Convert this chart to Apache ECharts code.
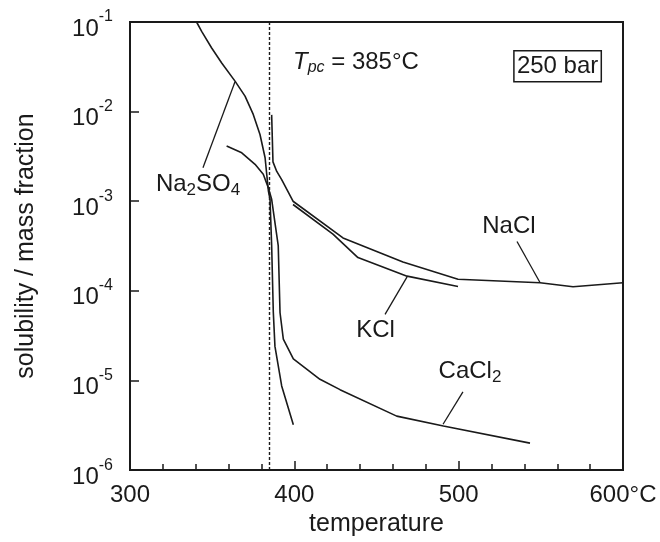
<!DOCTYPE html>
<html>
<head>
<meta charset="utf-8">
<script src="https://cdn.jsdelivr.net/npm/echarts@6/dist/echarts.min.js"></script>
<style>
  html, body { margin: 0; padding: 0; background: #fff; }
  #chart { width: 660px; height: 542px; }
</style>
</head>
<body>
<div id="chart"></div>
<script>
  // values (temperature in °C, solubility as mass fraction)
  const na2so4_t = [340.5, 343.6, 349.7, 355.8, 363.9, 370.0, 375.0, 379.1, 382.2, 383.2, 384.2, 385.2, 386.2, 387.2, 388.2, 392.3, 399.4]
  const na2so4_s = [0.1, 0.0787, 0.0513, 0.0349, 0.0219, 0.0149, 0.0093, 0.00556, 0.00306, 0.0020, 0.00131, 0.00105, 3.2e-4, 5.8e-5, 2.4e-5, 8.7e-6, 3.2e-6]

  const cacl2_t = [358.8, 368.0, 376.1, 381.1, 384.2, 386.2, 390.2, 391.3, 393.3, 399.4, 415.6, 427.8, 462.3, 490.7, 543.4]
  const cacl2_s = [0.00413, 0.00347, 0.00258, 0.0020, 0.00141, 0.00105, 3.2e-4, 5.7e-5, 2.9e-5, 1.74e-5, 1.03e-5, 7.9e-6, 4.0e-6, 3.1e-6, 2.0e-6]

  const nacl_t = [386.2, 387.0, 389.3, 392.3, 399.2, 429.6, 466.1, 499.6, 549.5, 569.6, 600]
  const nacl_s = [0.0092, 0.00275, 0.00215, 0.00174, 0.001, 3.9e-4, 2.1e-4, 1.35e-4, 1.23e-4, 1.11e-4, 1.23e-4]

  const kcl_t = [399.2, 423.5, 438.7, 468.6, 499.6]
  const kcl_s = [9.2e-4, 4.3e-4, 2.35e-4, 1.46e-4, 1.12e-4]

  const t_pc = 385
  const x_ticks = [300, 400, 500, 600]
  const y_range = [1e-6, 1e-1]

  const FONT = "'Liberation Sans', Arial, Helvetica, sans-serif"
  const INK = '#1a1a1a'

  function pairs(xs, ys) {
    return xs.map((x, i) => [x, ys[i]])
  }

  function curve(name, xs, ys) {
    return {
      name: name,
      type: 'line',
      data: pairs(xs, ys),
      symbol: 'none',
      smooth: false,
      silent: true,
      lineStyle: { color: INK, width: 1.6 }
    }
  }

  // leader line from a label to its curve, given in data units
  function leader(from, to) {
    return [{ coord: from }, { coord: to }]
  }

  const textBase = { fontFamily: FONT, color: INK }
  const richSub = {
    t: Object.assign({ fontSize: 24, lineHeight: 26, verticalAlign: 'top' }, textBase),
    s: Object.assign({ fontSize: 17, lineHeight: 16, padding: [14, 0, 0, 0], verticalAlign: 'bottom' }, textBase),
    i: Object.assign({ fontSize: 24, lineHeight: 26, verticalAlign: 'top', fontStyle: 'italic' }, textBase),
    is: Object.assign({ fontSize: 16, lineHeight: 16, verticalAlign: 'bottom', fontStyle: 'italic' }, textBase)
  }

  function note(coord, text, position) {
    return {
      coord: coord,
      symbol: 'circle',
      symbolSize: 0,
      label: {
        show: true,
        position: position || 'inside',
        distance: 0,
        formatter: text,
        rich: richSub
      }
    }
  }

  const chart = echarts.init(document.getElementById('chart'), null, { renderer: 'canvas' })

  chart.setOption({
    animation: false,
    backgroundColor: '#fff',
    textStyle: { fontFamily: FONT },
    grid: {
      left: 130,
      right: 37,
      top: 22,
      bottom: 71,
      show: true,
      borderColor: INK,
      borderWidth: 2,
      backgroundColor: 'transparent'
    },
    xAxis: {
      type: 'value',
      min: x_ticks[0],
      max: x_ticks[x_ticks.length - 1],
      interval: 100,
      name: 'temperature',
      nameLocation: 'middle',
      nameGap: 36,
      nameTextStyle: { fontSize: 25, color: INK, fontFamily: FONT },
      axisLine: { lineStyle: { color: INK, width: 2 } },
      axisTick: { inside: true, length: 9, lineStyle: { color: INK, width: 1.5 } },
      minorTick: { show: true, splitNumber: 5, length: 6, lineStyle: { color: INK, width: 1.5 } },
      splitLine: { show: false },
      axisLabel: {
        fontSize: 24,
        color: INK,
        fontFamily: FONT,
        margin: 13,
        formatter: function(v) {
          return v === 600 ? '600°C' : String(v)
        }
      }
    },
    yAxis: {
      type: 'log',
      logBase: 10,
      min: y_range[0],
      max: y_range[1],
      name: 'solubility / mass fraction',
      nameLocation: 'middle',
      nameGap: 91,
      nameTextStyle: { fontSize: 25, color: INK, fontFamily: FONT },
      axisLine: { show: true, lineStyle: { color: INK, width: 2 } },
      axisTick: { inside: true, length: 9, lineStyle: { color: INK, width: 1.5 } },
      minorTick: { show: false },
      splitLine: { show: false },
      axisLabel: {
        margin: 17,
        padding: [6, 0, 0, 0],
        formatter: function(v) {
          const e = Math.round(Math.log10(v))
          return '{b|10}{e|' + e + '}'
        },
        rich: {
          b: { fontSize: 24, lineHeight: 32, verticalAlign: 'bottom', color: INK, fontFamily: FONT },
          e: { fontSize: 16, lineHeight: 14, verticalAlign: 'top', color: INK, fontFamily: FONT }
        }
      }
    },
    series: [
      curve('Na2SO4', na2so4_t, na2so4_s),
      curve('CaCl2', cacl2_t, cacl2_s),
      curve('NaCl', nacl_t, nacl_s),
      curve('KCl', kcl_t, kcl_s),
      {
        name: 'notes',
        type: 'scatter',
        data: [],
        silent: true,
        markLine: {
          silent: true,
          symbol: ['none', 'none'],
          label: { show: false },
          lineStyle: { color: INK, width: 1.3, type: 'solid' },
          data: [
            leader([344.4, 2.37e-3], [363.9, 0.0215]),
            leader([535.5, 3.55e-4], [549.5, 1.24e-4]),
            leader([455.2, 5.46e-5], [468.6, 1.43e-4]),
            leader([502.6, 7.45e-6], [490.5, 3.25e-6])
          ]
        },
        markPoint: {
          silent: true,
          data: [
            note([341.4, 1.49e-3], '{t|Na}{s|2}{t|SO}{s|4}'),
            note([530.6, 5.15e-4], '{t|NaCl}'),
            note([449.4, 3.57e-5], '{t|KCl}'),
            note([506.9, 1.22e-5], '{t|CaCl}{s|2}'),
            note([399.2, 0.0349], '{i|T}{is|pc}{t| = 385°C}', 'right')
          ]
        }
      },
      {
        name: 'Tpc',
        type: 'scatter',
        data: [],
        silent: true,
        markLine: {
          silent: true,
          symbol: ['none', 'none'],
          label: { show: false },
          lineStyle: { color: INK, width: 1.4, type: [3, 2] },
          data: [{ xAxis: t_pc }]
        },
        markPoint: {
          silent: true,
          data: [{
            coord: [560.2, 0.032],
            symbol: 'circle',
            symbolSize: 0,
            label: {
              show: true,
              position: 'inside',
              formatter: '250 bar',
              fontSize: 24,
              lineHeight: 26,
              color: INK,
              fontFamily: FONT,
              borderColor: INK,
              borderWidth: 1.5,
              padding: [3, 3, 2, 3]
            }
          }]
        }
      }
    ]
  })
</script>
</body>
</html>
